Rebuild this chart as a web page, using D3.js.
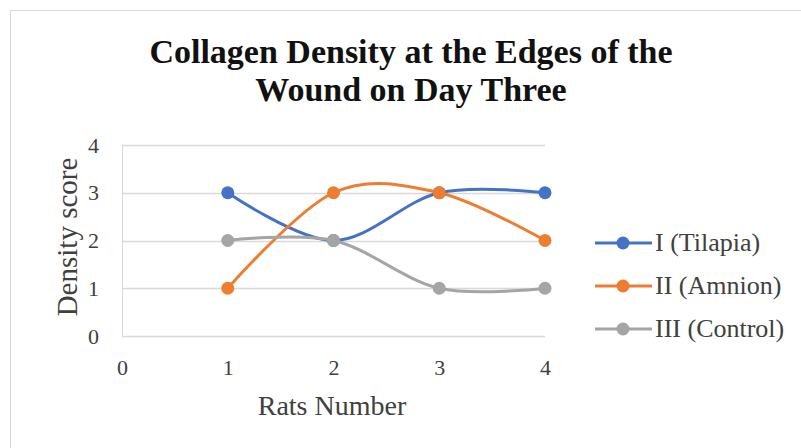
<!DOCTYPE html>
<html>
<head>
<meta charset="utf-8">
<script src="https://cdn.jsdelivr.net/npm/d3@7"></script>
<style>
body { margin: 0; background: #fff; }
svg text { font-family: "Liberation Serif", "Times New Roman", serif; fill: #404040; }
</style>
</head>
<body>
<script>
const svgWidth = 801
const svgHeight = 448

const margin = { top: 145, right: 256, bottom: 112, left: 122 }
const chartWidth = svgWidth - margin.left - margin.right
const chartHeight = svgHeight - margin.top - margin.bottom

// data
const rats = [1, 2, 3, 4]
const tilapia = [3, 2, 3, 3]
const amnion = [1, 3, 3, 2]
const control = [2, 2, 1, 1]
const seriesNames = ["I (Tilapia)", "II (Amnion)", "III (Control)"]
const xTicks = [0, 1, 2, 3, 4]
const yTicks = [0, 1, 2, 3, 4]

const colors = ["#4472C4", "#ED7D31", "#A5A5A5"]
const gridColor = "#D9D9D9"
const serif = "'Liberation Serif', 'Times New Roman', serif"

const series = [tilapia, amnion, control].map((vals, i) => ({
    name: seriesNames[i],
    color: colors[i],
    points: rats.map((r, j) => ({ x: r, y: vals[j] }))
}))

const svg = d3.select("body").append("svg")
    .attr("width", svgWidth)
    .attr("height", svgHeight)

// chart area border
svg.append("rect")
    .attr("x", 10.5)
    .attr("y", 10.5)
    .attr("width", svgWidth)
    .attr("height", svgHeight)
    .attr("fill", "#fff")
    .attr("stroke", gridColor)

// title
const title = svg.append("text")
    .attr("text-anchor", "middle")
    .style("font-family", serif)
    .style("font-size", "34px")
    .style("font-weight", "bold")
    .style("fill", "#111")
title.append("tspan").attr("x", 411).attr("y", 63).text("Collagen Density at the Edges of the")
title.append("tspan").attr("x", 411).attr("y", 101).text("Wound on Day Three")

const chartG = svg.append("g")
    .attr("transform", `translate(${margin.left}, ${margin.top})`)

const x = d3.scaleLinear().domain([0, 4]).range([0, chartWidth])
const y = d3.scaleLinear().domain([0, 4]).range([chartHeight, 0])

// gridlines
chartG.append("g")
    .selectAll("line")
    .data(yTicks)
    .join("line")
    .attr("x1", 0)
    .attr("x2", chartWidth)
    .attr("y1", d => Math.round(y(d)) + 0.5)
    .attr("y2", d => Math.round(y(d)) + 0.5)
    .attr("stroke", gridColor)
    .attr("stroke-width", 1.5)

chartG.append("line")
    .attr("x1", 0.5).attr("x2", 0.5)
    .attr("y1", 0).attr("y2", chartHeight)
    .attr("stroke", gridColor)
    .attr("stroke-width", 1)

// axes
const yAxis = d3.axisLeft(y).tickValues(yTicks).tickFormat(d3.format("d")).tickSize(0).tickPadding(23)
const xAxis = d3.axisBottom(x).tickValues(xTicks).tickFormat(d3.format("d")).tickSize(0).tickPadding(23)

chartG.append("g")
    .call(yAxis)
    .call(g => g.select(".domain").remove())
    .selectAll("text")
    .style("font-family", serif)
    .style("font-size", "22px")
    .style("fill", "#404040")

chartG.append("g")
    .attr("transform", `translate(0, ${chartHeight})`)
    .call(xAxis)
    .call(g => g.select(".domain").remove())
    .selectAll("text")
    .style("font-family", serif)
    .style("font-size", "22px")
    .style("fill", "#404040")

// axis titles
svg.append("text")
    .attr("transform", "translate(77, 237) rotate(-90)")
    .attr("text-anchor", "middle")
    .style("font-family", serif)
    .style("font-size", "29px")
    .text("Density score")

svg.append("text")
    .attr("x", 332)
    .attr("y", 415)
    .attr("text-anchor", "middle")
    .style("font-family", serif)
    .style("font-size", "28px")
    .text("Rats Number")

// lines
const line = d3.line()
    .x(d => x(d.x))
    .y(d => y(d.y))
    .curve(d3.curveCardinal.tension(0))

series.forEach(s => {
    chartG.append("path")
        .attr("d", line(s.points))
        .attr("fill", "none")
        .attr("stroke", s.color)
        .attr("stroke-width", 3)

    chartG.append("g")
        .selectAll("circle")
        .data(s.points)
        .join("circle")
        .attr("cx", d => x(d.x))
        .attr("cy", d => y(d.y))
        .attr("r", 6.5)
        .attr("fill", s.color)
})

// legend
const legend = svg.append("g")
    .attr("transform", "translate(595, 243)")

series.forEach((s, i) => {
    const row = legend.append("g").attr("transform", `translate(0, ${i * 43})`)
    row.append("line")
        .attr("x1", 0).attr("x2", 57)
        .attr("y1", 0).attr("y2", 0)
        .attr("stroke", s.color)
        .attr("stroke-width", 3)
    row.append("circle")
        .attr("cx", 28).attr("cy", 0).attr("r", 6.5)
        .attr("fill", s.color)
    row.append("text")
        .attr("x", 60)
        .attr("y", 8)
        .style("font-family", serif)
        .style("font-size", "26px")
        .text(s.name)
})
</script>
</body>
</html>
